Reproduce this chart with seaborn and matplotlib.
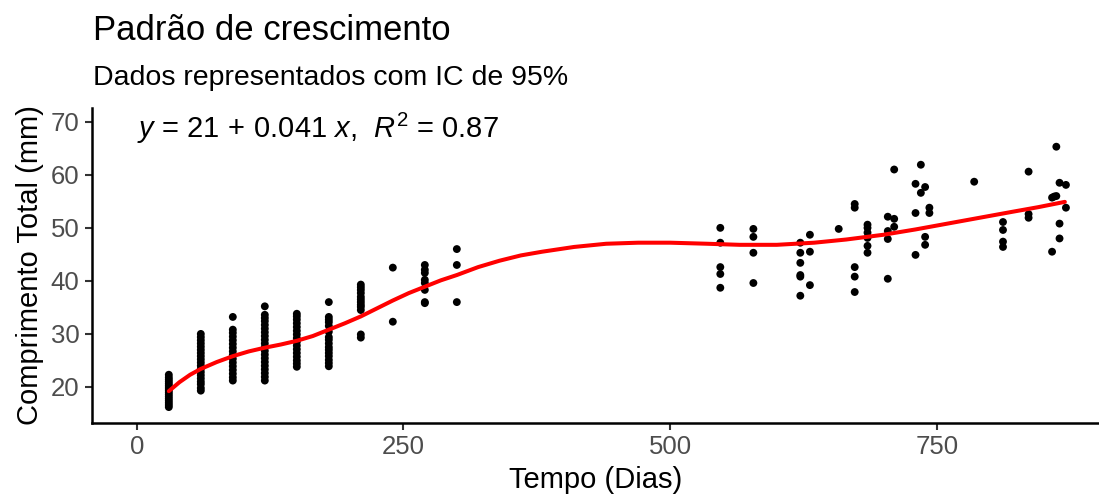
import matplotlib
matplotlib.use("Agg")
from matplotlib import pyplot as plt
import seaborn as sns
import pandas as pd

dias = (
    [30] * 16 + [60] * 19 + [90] * 16 + [120] * 20 + [150] * 16 + [180] * 16
    + [210] * 12 + [240] * 2 + [270] * 8 + [300] * 3
    + [547] * 5 + [578] * 4 + [622] * 6 + [631] * 3 + [658] * 1 + [673] * 5
    + [685] * 6 + [704] * 4 + [710] * 3 + [730] * 3 + [735] * 2 + [739] * 3
    + [743] * 2 + [785] * 1 + [812] * 4 + [836] * 3 + [858] * 2 + [860] * 1
    + [862] * 2 + [865] * 3 + [871] * 2
)
comprimento = [
    16.2, 16.6, 17.0, 17.4, 17.8, 18.2, 18.6, 19.0, 19.4, 19.8, 20.2, 20.6, 21.0, 21.4, 21.8, 22.3,
    19.3, 19.8, 20.5, 21.0, 21.6, 22.2, 22.8, 23.4, 24.0, 24.6, 25.2, 25.8, 26.4, 27.0, 27.6, 28.2, 28.8, 29.4, 30.0,
    21.2, 21.8, 22.5, 23.2, 23.9, 24.6, 25.3, 26.0, 26.7, 27.4, 28.1, 28.8, 29.5, 30.2, 30.8, 33.2,
    21.2, 21.9, 22.6, 23.3, 24.0, 24.7, 25.4, 26.1, 26.8, 27.5, 28.2, 28.9, 29.6, 30.3, 31.0, 31.7, 32.4, 33.0, 33.6, 35.2,
    23.8, 24.4, 25.0, 25.7, 26.4, 27.1, 27.8, 28.5, 29.2, 29.9, 30.6, 31.3, 32.0, 32.7, 33.3, 33.8,
    23.9, 24.5, 25.1, 25.8, 26.4, 27.0, 27.5, 28.2, 28.9, 29.4, 30.4, 31.5, 32.2, 32.7, 33.2, 36.0,
    29.3, 29.9, 34.5, 35.1, 35.5, 36.0, 36.5, 37.0, 37.7, 38.3, 38.8, 39.3,
    42.5, 32.3,
    43.0, 42.1, 41.5, 40.2, 39.6, 38.3, 36.0, 35.8,
    46.0, 43.0, 36.0,
    50.0, 47.2, 42.6, 41.3, 38.7,
    49.8, 48.3, 45.3, 39.6,
    47.2, 45.3, 43.4, 41.1, 40.8, 37.2,
    48.7, 45.5, 39.2,
    49.8,
    54.5, 53.8, 42.6, 40.8, 37.9,
    50.6, 50.0, 49.1, 48.1, 46.6, 45.3,
    52.1, 49.4, 47.9, 40.4,
    61.0, 51.7, 50.2,
    58.3, 52.8, 44.9,
    61.9, 56.6,
    57.7, 48.3, 46.8,
    53.8, 52.8,
    58.7,
    51.1, 49.6, 47.4, 46.4,
    60.6, 52.6, 51.9,
    55.7, 45.5,
    55.9,
    65.3, 56.0,
    58.5, 50.8, 48.0,
    58.1, 53.8,
]

# curva suavizada (vermelha)
curva_dias = [30, 40, 50, 60, 75, 90, 105, 120, 135, 150, 165, 180, 195, 210, 225, 240,
              255, 270, 285, 300, 320, 340, 360, 380, 410, 440, 470, 500, 535, 565,
              600, 635, 665, 700, 730, 760, 790, 820, 845, 870]
curva_comp = [19.2, 20.9, 22.3, 23.4, 24.7, 25.8, 26.7, 27.4, 28.0, 28.7, 29.6, 30.8,
              32.0, 33.3, 34.8, 36.3, 37.7, 38.9, 40.1, 41.1, 42.6, 43.8, 44.8, 45.5,
              46.4, 47.0, 47.2, 47.2, 47.0, 46.8, 46.8, 47.2, 47.8, 48.7, 49.7, 50.8,
              51.9, 53.0, 53.9, 54.9]

df = pd.DataFrame({"Tempo": dias, "Comprimento": comprimento})
df_curva = pd.DataFrame({"Tempo": curva_dias, "Comprimento": curva_comp})

sns.set_style("white")
plt.rcParams["font.family"] = ["Liberation Sans", "DejaVu Sans"]
plt.rcParams["text.color"] = "black"
plt.rcParams["axes.labelcolor"] = "black"
plt.rcParams["mathtext.fontset"] = "custom"
plt.rcParams["mathtext.rm"] = "Liberation Sans"
plt.rcParams["mathtext.it"] = "Liberation Sans:italic"

fig = plt.figure(figsize=(10.99, 5), dpi=100)
ax = fig.add_axes([92 / 1099, 1 - 423 / 500, 1 - 92 / 1099, (423 - 108) / 500])

sns.scatterplot(data=df, x="Tempo", y="Comprimento", ax=ax, color="black",
                s=32, edgecolor="none", linewidth=0, zorder=2)
sns.lineplot(data=df_curva, x="Tempo", y="Comprimento", ax=ax, color="#FF0000",
             linewidth=2.9, zorder=3)

ax.set_xlim(-42, 902)
ax.set_ylim(13.2, 72.6)
ax.set_xticks([0, 250, 500, 750])
ax.set_yticks([20, 30, 40, 50, 60, 70])
ax.tick_params(axis="both", labelsize=18.5, labelcolor="#4D4D4D", color="#333333",
               length=5, width=1.5, direction="out", bottom=True, left=True, pad=4)
for lado in ["top", "right"]:
    ax.spines[lado].set_visible(False)
for lado in ["left", "bottom"]:
    ax.spines[lado].set_color("black")
    ax.spines[lado].set_linewidth(1.8)

ax.set_xlabel("Tempo (Dias)", fontsize=21, color="black", labelpad=5)
ax.set_ylabel("Comprimento Total (mm)", fontsize=21, color="black", labelpad=5)

ax.text(0.045, 0.905, r"$y$ = 21$\,+\,$0.041 $x$,  $R^2$ = 0.87",
        transform=ax.transAxes, fontsize=21, va="baseline", ha="left", color="black")

fig.text(93 / 1099, 1 - 40 / 500, "Padrão de crescimento", fontsize=25, ha="left",
         va="baseline", color="black")
fig.text(93 / 1099, 1 - 85 / 500, "Dados representados com IC de 95%", fontsize=20.5,
         ha="left", va="baseline", color="black")

fig.savefig("out.png", dpi=100)
